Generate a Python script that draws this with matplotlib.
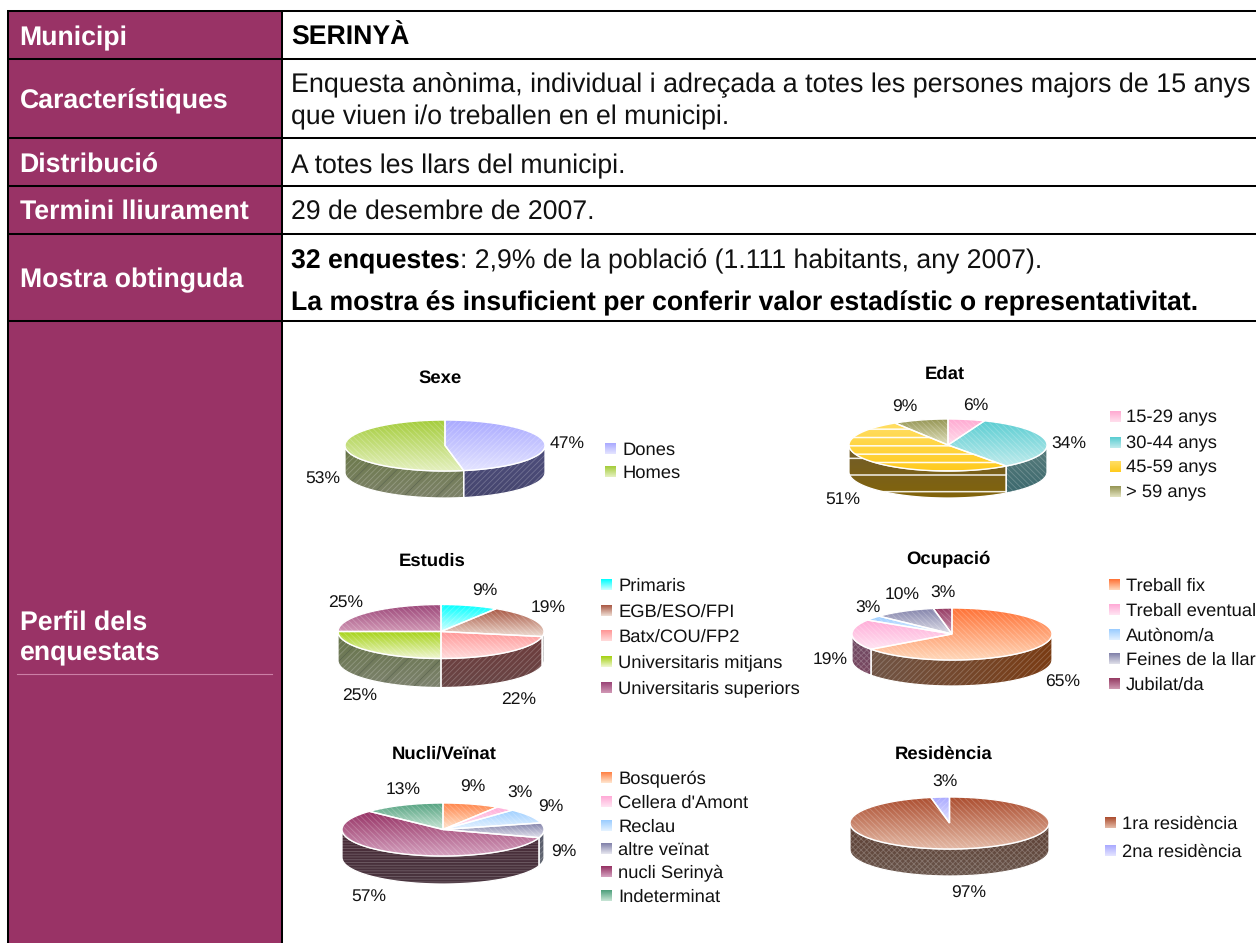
import numpy as np
import matplotlib
matplotlib.use("Agg")
import matplotlib.pyplot as plt
from matplotlib.patches import Polygon, Rectangle
from matplotlib.colors import LinearSegmentedColormap

plt.rcParams['font.family'] = ['Liberation Sans', 'DejaVu Sans']
plt.rcParams['hatch.linewidth'] = 0.6
plt.rcParams['text.hinting'] = 'no_hinting'
plt.rcParams['text.hinting_factor'] = 8

# ---------- data ----------
row_headers = ["Municipi", "Característiques", "Distribució", "Termini lliurament", "Mostra obtinguda"]

sexe_labels = ["Dones", "Homes"]
sexe_values = [47, 53]
edat_labels = ["15-29 anys", "30-44 anys", "45-59 anys", "> 59 anys"]
edat_values = [6, 34, 51, 9]
estudis_labels = ["Primaris", "EGB/ESO/FPI", "Batx/COU/FP2", "Universitaris mitjans", "Universitaris superiors"]
estudis_values = [9, 19, 22, 25, 25]
ocupacio_labels = ["Treball fix", "Treball eventual", "Autònom/a", "Feines de la llar", "Jubilat/da"]
ocupacio_values = [65, 19, 3, 10, 3]
nucli_labels = ["Bosquerós", "Cellera d'Amont", "Reclau", "altre veïnat", "nucli Serinyà", "Indeterminat"]
nucli_values = [9, 3, 9, 9, 57, 13]
residencia_labels = ["1ra residència", "2na residència"]
residencia_values = [97, 3]

# ---------- styles: (top colour, bottom colour, wall top, wall bottom, top hatch, wall hatch[, sparse dark hatch, horizontal wall]) ----------
W = 255
B = '\\\\\\\\\\\\'
F = '//////'
sexe_style = [((170,170,W),(228,228,W),(78,78,125),(70,70,110),F,F),
              ((165,205,60),(228,240,190),(105,120,70),(125,130,105),B,F,'/')]
edat_style = [((W,170,210),(W,222,236),(120,90,100),(110,85,95),B,F),
              ((90,205,210),(190,235,236),(90,125,125),(60,105,110),B,B),
              ((W,222,100),(W,203,30),(112,92,45),(130,100,10),'--','-'),
              ((150,150,85),(225,225,190),(95,90,50),(110,105,70),B,F)]
estudis_style = [((0,W,W),(205,W,W),(60,110,110),(60,110,110),F,F),
                 ((170,90,70),(238,220,210),(110,110,110),(130,130,130),B,F),
                 ((W,150,150),(W,218,218),(110,60,60),(105,70,70),B,F),
                 ((165,210,20),(238,246,205),(100,115,70),(125,130,110),B,F,'/'),
                 ((155,70,120),(208,150,180),(90,50,70),(90,50,70),B,F)]
ocupacio_style = [((W,115,55),(W,215,185),(112,85,70),(122,60,20),B,F,None,True),
                  ((W,170,215),(W,228,242),(110,75,100),(120,70,95),B,'xxxxxx'),
                  ((155,205,W),(225,240,W),(90,110,130),(90,110,130),B,F),
                  ((130,130,170),(222,222,232),(80,80,110),(80,80,110),B,F),
                  ((150,60,100),(205,150,175),(90,50,70),(90,50,70),B,F)]
nucli_style = [((W,130,70),(W,228,205),(110,75,50),(110,75,50),B,F),
               ((W,170,215),(W,228,242),(110,75,100),(110,75,100),B,F),
               ((155,205,W),(228,242,W),(90,110,130),(90,110,130),B,F),
               ((130,130,170),(228,228,238),(85,88,105),(100,105,115),B,F),
               ((150,50,100),(212,160,190),(72,42,55),(72,52,62),B,'------'),
               ((80,160,125),(198,228,212),(50,90,70),(50,90,70),B,F)]
residencia_style = [((172,78,48),(228,185,165),(92,62,50),(105,85,75),B,'xxxxxx'),
                    ((170,170,W),(228,228,W),(78,78,125),(78,78,125),F,F)]

# ---------- layout (pixels) ----------
charts = [
 dict(title="Sexe", tpos=(440,378), geo=(445,445.5,100,25.5,27), labels=sexe_labels, values=sexe_values, style=sexe_style,
      pct=[(567,444),(323,479)], lx=605, tx=622, ly=[450,473]),
 dict(title="Edat", tpos=(945,374), geo=(948,445,99,26,27), labels=edat_labels, values=edat_values, style=edat_style,
      pct=[(976,406),(1069,444),(843,499),(905,407)], lx=1110, tx=1126, ly=[418,444,468,493]),
 dict(title="Estudis", tpos=(432,561), geo=(441,631.5,103,27,29), labels=estudis_labels, values=estudis_values, style=estudis_style,
      pct=[(485,591),(548,608),(519,700),(360,696),(346,603)], lx=601, tx=618, ly=[586,612,637,663,689]),
 dict(title="Ocupació", tpos=(948,559), geo=(952,634,100,26,26), labels=ocupacio_labels, values=ocupacio_values, style=ocupacio_style,
      pct=[(1063,682),(830,660),(868,608),(902,595),(943,593)], lx=1109, tx=1126, ly=[586,611,636,660,685]),
 dict(title="Nucli/Veïnat", tpos=(444,754), geo=(443,829.5,101,26.5,28), labels=nucli_labels, values=nucli_values, style=nucli_style,
      pct=[(473,787),(520,793),(551,807),(564,852),(369,896),(403,790)], lx=601, tx=618, ly=[779,803,827,850,873,897]),
 dict(title="Residència", tpos=(944,754), geo=(949.5,823,99.5,26,27), labels=residencia_labels, values=residencia_values, style=residencia_style,
      pct=[(969,893),(945,782)], lx=1105, tx=1122, ly=[824,852]),
]

PLUM = '#993366'
fig = plt.figure(figsize=(12.56, 9.43), dpi=100)
ax = fig.add_axes([0, 0, 1, 1])
ax.axis('off')
ax.set_xlim(0, 1256)
ax.set_ylim(943, 0)

def grad(c1, c2):
    return LinearSegmentedColormap.from_list('g', [tuple(v/255 for v in c1), tuple(v/255 for v in c2)])

def fill_grad(poly, c1, c2, hatch, hatch_col, z, sparse=None, horizontal=False):
    patch = Polygon(poly, closed=True, fc='none', ec='none', transform=ax.transData)
    ax.add_patch(patch)
    ext = (poly[:, 0].min(), poly[:, 0].max(), poly[:, 1].max(), poly[:, 1].min())
    ramp = np.linspace(0, 1, 64)
    im = ax.imshow(ramp[None, :] if horizontal else ramp[:, None], cmap=grad(c1, c2), extent=ext, aspect='auto',
                   origin='upper', interpolation='bilinear', zorder=z)
    im.set_clip_path(patch)
    if hatch:
        plt.rcParams['hatch.linewidth'] = 1.1 if '-' in hatch and len(hatch) < 4 else 0.6
        ax.add_patch(Polygon(poly, closed=True, fc='none', ec=hatch_col, hatch=hatch, lw=0, zorder=z + 0.1))
    if sparse:
        plt.rcParams['hatch.linewidth'] = 0.6
        ax.add_patch(Polygon(poly, closed=True, fc='none', ec=(0.15, 0.2, 0.1, 0.5), hatch=sparse, lw=0, zorder=z + 0.2))

def pie3d(c):
    cx, cy, rx, ry, d = c['geo']
    vals = np.array(c['values'], float)
    edges = np.concatenate([[0], np.cumsum(vals) / vals.sum() * 2 * np.pi])
    px = lambda t: cx + rx * np.sin(t)
    py = lambda t: cy - ry * np.cos(t)
    for i, st in enumerate(c['style']):
        a0, a1 = max(edges[i], np.pi / 2), min(edges[i + 1], 3 * np.pi / 2)
        if a1 <= a0:
            continue
        t = np.linspace(a0, a1, 60)
        poly = np.r_[np.c_[px(t), py(t)], np.c_[px(t[::-1]), py(t[::-1]) + d]]
        solid = len(st[5]) < 4
        fill_grad(poly, st[2], st[3], st[5], (1, 1, 1, 0.9 if solid else 0.22), 3,
                  st[6] if len(st) > 6 else None, st[7] if len(st) > 7 else False)
        ax.add_patch(Polygon(poly, closed=True, fc='none', ec='white', lw=0.9, zorder=3.5))
    for i, st in enumerate(c['style']):
        t = np.linspace(edges[i], edges[i + 1], 100)
        poly = np.r_[[[cx, cy]], np.c_[px(t), py(t)]]
        fill_grad(poly, st[0], st[1], st[4], (1, 1, 1, 0.95 if st[4] == '--' else 0.22), 4)
        ax.add_patch(Polygon(poly, closed=True, fc='none', ec='white', lw=1.0, zorder=4.5))
    ax.text(*c['tpos'], c['title'], ha='center', va='center', fontsize=13.3, fontweight='bold', color='black', zorder=6)
    for v, (x, y) in zip(c['values'], c['pct']):
        ax.text(x, y, f"{v}%", ha='center', va='center', fontsize=12.6, color='#111111', zorder=6)
    for lab, st, y in zip(c['labels'], c['style'], c['ly']):
        ax.imshow(np.linspace(0, 1, 16)[:, None], cmap=grad(st[0], st[1]),
                  extent=(c['lx'], c['lx'] + 11, y + 4.5, y - 6.5), aspect='auto', origin='upper', zorder=5)
        ax.text(c['tx'], y, lab, ha='left', va='center', fontsize=13.2, color='#111111', zorder=6)

# ---------- table ----------
x0, xm, xr = 8, 282, 1256
rows = [11, 59, 137.5, 186, 234, 320.5, 943]
ax.add_patch(Rectangle((x0, rows[0]), xm - x0, rows[-1] - rows[0], fc=PLUM, ec='none', zorder=1))
for y in rows[:-1]:
    ax.plot([x0 - 1, xr], [y, y], color='black', lw=1.45, zorder=2, solid_capstyle='butt')
for x in (x0, xm):
    ax.plot([x, x], [rows[0], rows[-1]], color='black', lw=1.45, zorder=2, solid_capstyle='butt')

HFS = 19.2
for lab, y in zip(row_headers, [38, 101, 166, 212, 280]):
    ax.text(19.5, y, lab, ha='left', va='center', fontsize=HFS, fontweight='bold', color='white', zorder=6)
ax.text(19.5, 623, "Perfil dels", ha='left', va='center', fontsize=HFS, fontweight='bold', color='white', zorder=6)
ax.text(19.5, 653, "enquestats", ha='left', va='center', fontsize=HFS, fontweight='bold', color='white', zorder=6)
ax.plot([17, 272], [673.5, 673.5], color='#CC7FA6', lw=0.8, zorder=6)

BFS = 19.2
ax.text(291, 38, "SERINYÀ", ha='left', va='center', fontsize=BFS, fontweight='bold', color='black')
ax.text(291, 85, "Enquesta anònima, individual i adreçada a totes les persones majors de 15 anys",
        ha='left', va='center', fontsize=19.4, color='#111111')
ax.text(291, 117, "que viuen i/o treballen en el municipi.", ha='left', va='center', fontsize=BFS, color='#111111')
ax.text(291, 166, "A totes les llars del municipi.", ha='left', va='center', fontsize=BFS, color='#111111')
ax.text(291, 212, "29 de desembre de 2007.", ha='left', va='center', fontsize=BFS, color='#111111')
t1 = ax.text(291, 261, "32 enquestes", ha='left', va='center', fontsize=BFS, fontweight='bold', color='black')
fig.canvas.draw()
bb = t1.get_window_extent()
xe = ax.transData.inverted().transform((bb.x1, bb.y0))[0]
ax.text(xe, 261, ": 2,9% de la població (1.111 habitants, any 2007).", ha='left', va='center',
        fontsize=BFS, color='#111111')
ax.text(291, 303, "La mostra és insuficient per conferir valor estadístic o representativitat.",
        ha='left', va='center', fontsize=BFS, fontweight='bold', color='black')

for c in charts:
    pie3d(c)

ax.set_xlim(0, 1256)
ax.set_ylim(943, 0)
fig.savefig('out.png', dpi=100, facecolor='white')
